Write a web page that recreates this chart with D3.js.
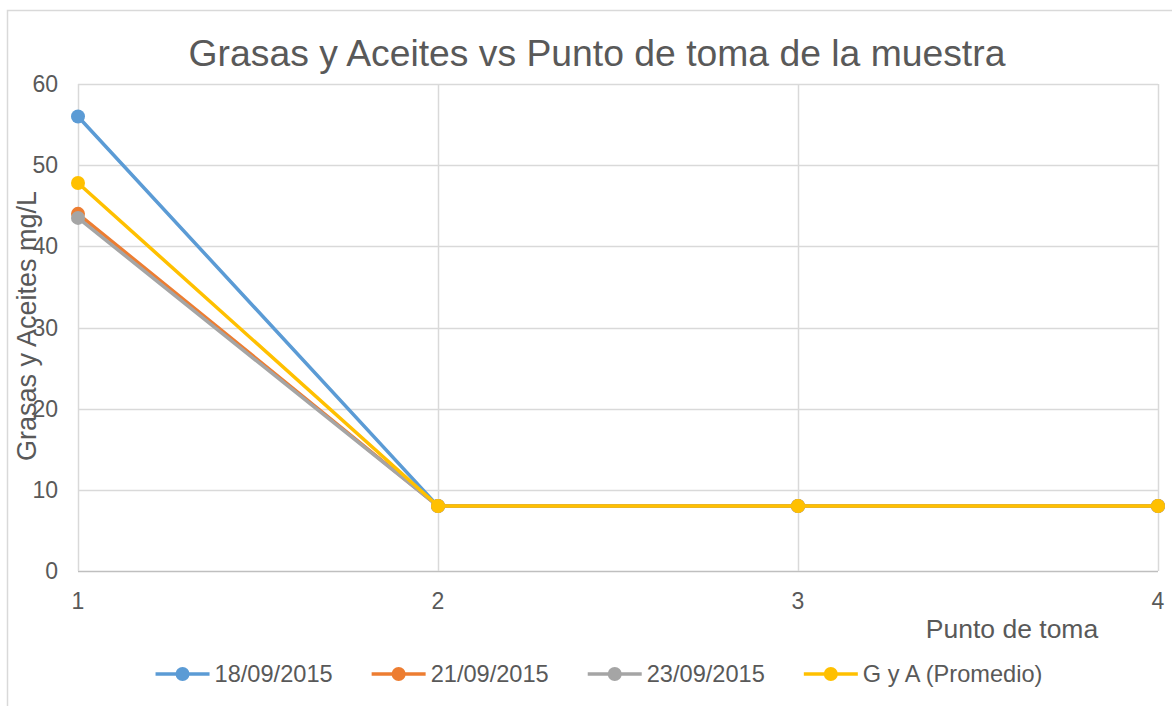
<!DOCTYPE html>
<html>
<head>
<meta charset="utf-8">
<script src="https://cdn.jsdelivr.net/npm/d3@7"></script>
<style>
  body { margin: 0; background: #fff; }
  text { font-family: "Liberation Sans", Arial, sans-serif; fill: #595959; }
</style>
</head>
<body>
<div id="chart"></div>
<script>
// datos
var puntos = [1, 2, 3, 4];
var serie1 = [56, 8, 8, 8];     // 18/09/2015
var serie2 = [44, 8, 8, 8];     // 21/09/2015
var serie3 = [43.5, 8, 8, 8];   // 23/09/2015
var promedio = [47.8, 8, 8, 8]; // G y A (Promedio)
var nombres = ["18/09/2015", "21/09/2015", "23/09/2015", "G y A (Promedio)"];
var colores = ["#5B9BD5", "#ED7D31", "#A5A5A5", "#FFC000"];
var yTicks = [0, 10, 20, 30, 40, 50, 60];

var series = [serie1, serie2, serie3, promedio];

var W = 1172, H = 706;
var margin = {top: 84, right: 14, bottom: 135, left: 78};

var svg = d3.select("#chart").append("svg")
  .attr("width", W).attr("height", H);

// borde del area del grafico
svg.append("rect")
  .attr("x", 7.5).attr("y", 10.5)
  .attr("width", W + 20).attr("height", H + 20)
  .attr("fill", "none").attr("stroke", "#d9d9d9").attr("stroke-width", 1.5);

var x = d3.scaleLinear().domain([1, 4]).range([margin.left, W - margin.right]);
var y = d3.scaleLinear().domain([0, 60]).range([H - margin.bottom, margin.top]);

// grilla horizontal
svg.append("g").selectAll("line").data(yTicks).enter().append("line")
  .attr("x1", x(1)).attr("x2", x(4))
  .attr("y1", function(d){ return Math.round(y(d)) + 0.5; })
  .attr("y2", function(d){ return Math.round(y(d)) + 0.5; })
  .attr("stroke", function(d){ return d == 0 ? "#bfbfbf" : "#d9d9d9"; })
  .attr("stroke-width", 1.5);

// grilla vertical
svg.append("g").selectAll("line").data(puntos).enter().append("line")
  .attr("x1", function(d){ return Math.round(x(d)) + 0.5; })
  .attr("x2", function(d){ return Math.round(x(d)) + 0.5; })
  .attr("y1", y(60)).attr("y2", y(0))
  .attr("stroke", "#d9d9d9").attr("stroke-width", 1.5);

// etiquetas eje y
svg.append("g").selectAll("text").data(yTicks).enter().append("text")
  .attr("x", 58).attr("y", function(d){ return y(d); })
  .attr("dy", "0.35em").attr("text-anchor", "end")
  .style("font-size", "23px")
  .text(function(d){ return d; });

// etiquetas eje x
svg.append("g").selectAll("text").data(puntos).enter().append("text")
  .attr("x", function(d){ return x(d); }).attr("y", 609)
  .attr("text-anchor", "middle")
  .style("font-size", "23px")
  .text(function(d){ return d; });

// titulos
svg.append("text")
  .attr("x", 597).attr("y", 66)
  .attr("text-anchor", "middle")
  .style("font-size", "37.3px")
  .text("Grasas y Aceites vs Punto de toma de la muestra");

svg.append("text")
  .attr("x", 1012).attr("y", 638)
  .attr("text-anchor", "middle")
  .style("font-size", "26.5px")
  .text("Punto de toma");

svg.append("text")
  .attr("transform", "translate(36,326) rotate(-90)")
  .attr("text-anchor", "middle")
  .style("font-size", "27px")
  .text("Grasas y Aceites mg/L");

// lineas
var linea = d3.line()
  .x(function(d, i){ return x(puntos[i]); })
  .y(function(d){ return y(d); });

series.forEach(function(s, k){
  var g = svg.append("g");
  g.append("path")
    .datum(s)
    .attr("d", linea)
    .attr("fill", "none")
    .attr("stroke", colores[k])
    .attr("stroke-width", 3.5)
    .attr("stroke-linejoin", "round");
  g.selectAll("circle").data(s).enter().append("circle")
    .attr("cx", function(d, i){ return x(puntos[i]); })
    .attr("cy", function(d){ return y(d); })
    .attr("r", 7)
    .attr("fill", colores[k]);
});

// leyenda
var ley = svg.append("g");
var pos = 0;
nombres.forEach(function(n, k){
  var it = ley.append("g").attr("transform", "translate(" + pos + ",0)");
  it.append("line").attr("x1", 0).attr("x2", 54).attr("y1", 674).attr("y2", 674)
    .attr("stroke", colores[k]).attr("stroke-width", 3.5);
  it.append("circle").attr("cx", 27).attr("cy", 674).attr("r", 7).attr("fill", colores[k]);
  var t = it.append("text").attr("x", 59).attr("y", 682)
    .style("font-size", "23.6px").text(n);
  pos += 59 + t.node().getComputedTextLength() + 39;
});
var total = pos - 39;
ley.attr("transform", "translate(" + (599 - total / 2) + ",0)");
</script>
</body>
</html>
